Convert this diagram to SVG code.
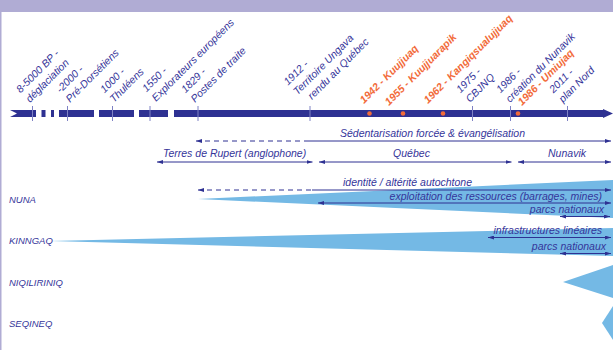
<svg xmlns="http://www.w3.org/2000/svg" width="613" height="350" viewBox="0 0 613 350">
<defs>
<marker id="ah" viewBox="0 0 6 4" refX="6" refY="2" markerWidth="6" markerHeight="4" markerUnits="userSpaceOnUse" orient="auto-start-reverse"><path d="M0,0 L6,2 L0,4 z" fill="#2e3192"/></marker>
<style>
.t{font-family:"Liberation Sans",Arial,sans-serif;font-style:italic;font-size:10.5px;fill:#35359a}
.o{font-family:"Liberation Sans",Arial,sans-serif;font-style:italic;font-weight:bold;font-size:10.5px;fill:#f26b3a}
.lab{font-family:"Liberation Sans",Arial,sans-serif;font-style:italic;font-size:9.5px;fill:#35359a}
.bar{fill:#2e3192}
.tick{stroke:#7f82c4;stroke-width:1}
.dot{fill:#f26b3a}
.ln{stroke:#2e3192;stroke-width:1;fill:none}
.dash{stroke-dasharray:5 4}
.w{fill:#74b9e5}
</style>
</defs>
<rect x="0" y="0" width="613" height="350" fill="#ffffff"/>
<rect x="0" y="0" width="613" height="12" fill="#b0acd4"/>
<rect x="0" y="12" width="1.5" height="338" fill="#b0acd4"/>

<g id="wedges">
<polygon class="w" points="198,199 613,180 613,218"/>
<polygon class="w" points="50,241 613,228 613,256"/>
<polygon class="w" points="563,282 613,265 613,298"/>
<polygon class="w" points="602,323 613,306 613,340"/>
</g>

<g id="timeline">
<polygon class="bar" points="10,110 36,110 36,117 10,117 17,113.5"/>
<rect class="bar" x="41.5" y="110" width="4" height="7"/>
<rect class="bar" x="51" y="110" width="3" height="7"/>
<rect class="bar" x="59" y="110" width="35" height="7"/>
<rect class="bar" x="99" y="110" width="35" height="7"/>
<rect class="bar" x="139" y="110" width="29" height="7"/>
<rect class="bar" x="174" y="110" width="430" height="7"/>
<polygon class="bar" points="603,109 613,113.5 603,118"/>
<g class="tick">
<line x1="32.5" y1="106" x2="32.5" y2="121"/>
<line x1="67.5" y1="106" x2="67.5" y2="121"/>
<line x1="112.5" y1="106" x2="112.5" y2="121"/>
<line x1="150" y1="106" x2="150" y2="121"/>
<line x1="198" y1="106" x2="198" y2="121"/>
<line x1="310" y1="106" x2="310" y2="121"/>
<line x1="472.5" y1="106" x2="472.5" y2="121"/>
<line x1="510.5" y1="106" x2="510.5" y2="121"/>
<line x1="567.5" y1="106" x2="567.5" y2="121"/>
</g>
<circle class="dot" cx="369.5" cy="113.5" r="2.3"/>
<circle class="dot" cx="403" cy="113.5" r="2.3"/>
<circle class="dot" cx="443" cy="113.5" r="2.3"/>
<circle class="dot" cx="518" cy="113.5" r="2.3"/>
</g>

<g id="ev-8000"><text class="t" transform="translate(30,103) rotate(-45)"><tspan x="0" y="-13.5">8-5000 BP -</tspan><tspan x="0" y="0">déglaciation</tspan></text></g>
<g id="ev-2000"><text class="t" transform="translate(70,103) rotate(-45)"><tspan x="0" y="-13.5">-2000 -</tspan><tspan x="0" y="0">Pré-Dorsétiens</tspan></text></g>
<g id="ev-1000"><text class="t" transform="translate(114,103) rotate(-45)"><tspan x="0" y="-13.5">1000 -</tspan><tspan x="0" y="0">Thuléens</tspan></text></g>
<g id="ev-1550"><text class="t" transform="translate(156,102) rotate(-45)"><tspan x="0" y="-13.5">1550 -</tspan><tspan x="0" y="0">Explorateurs européens</tspan></text></g>
<g id="ev-1829"><text class="t" transform="translate(195,103) rotate(-45)"><tspan x="0" y="-13.5">1829 -</tspan><tspan x="0" y="0">Postes de traite</tspan></text></g>
<g id="ev-1912"><text class="t" transform="translate(312,100) rotate(-45)"><tspan x="-7" y="-27">1912 -</tspan><tspan x="-7" y="-13.5">Territoire Ungava</tspan><tspan x="0" y="0">rendu au Québec</tspan></text></g>
<g id="ev-1942"><text class="o" transform="translate(364,104) rotate(-45)">1942 - Kuujjuaq</text></g>
<g id="ev-1955"><text class="o" transform="translate(389,106) rotate(-45)">1955 - Kuujjuarapik</text></g>
<g id="ev-1962"><text class="o" transform="translate(428,104) rotate(-45)">1962 - Kangiqsualujjuaq</text></g>
<g id="ev-1975"><text class="t" transform="translate(470,103) rotate(-45)"><tspan x="0" y="-13.5">1975 -</tspan><tspan x="0" y="0">CBJNQ</tspan></text></g>
<g id="ev-1986"><text class="t" transform="translate(510,103) rotate(-45)"><tspan x="0" y="-13.5">1986 -</tspan><tspan x="0" y="0">création du Nunavik</tspan></text></g>
<g id="ev-1986u"><text class="o" transform="translate(522,106) rotate(-45)">1986 - Umiujaq</text></g>
<g id="ev-2011"><text class="t" transform="translate(563,103) rotate(-45)"><tspan x="0" y="-13.5">2011 -</tspan><tspan x="0" y="0">plan Nord</tspan></text></g>

<g id="row-labels">
<text class="lab" x="9" y="202.5">NUNA</text>
<text class="lab" x="9" y="244">KINNGAQ</text>
<text class="lab" x="9" y="285.5">NIQILIRINIQ</text>
<text class="lab" x="9" y="326.5">SEQINEQ</text>
</g>

<g id="period-labels">
<text class="t" x="340" y="137">Sédentarisation forcée &amp; évangélisation</text>
<text class="t" x="163" y="157">Terres de Rupert (anglophone)</text>
<text class="t" x="411.5" y="157" text-anchor="middle">Québec</text>
<text class="t" x="567" y="157" text-anchor="middle">Nunavik</text>
<text class="t" x="343" y="186">identité / altérité autochtone</text>
<text class="t" x="602" y="200" text-anchor="end">exploitation des ressources (barrages, mines)</text>
<text class="t" x="604" y="213" text-anchor="end">parcs nationaux</text>
<text class="t" x="602" y="234" text-anchor="end">infrastructures linéaires</text>
<text class="t" x="606" y="250" text-anchor="end">parcs nationaux</text>
</g>

<g id="connectors">
<line class="ln dash" x1="196" y1="141" x2="308" y2="141" marker-start="url(#ah)"/>
<line class="ln" x1="308" y1="141" x2="611" y2="141" marker-end="url(#ah)"/>
<line class="ln" x1="157" y1="162" x2="312.5" y2="162" marker-start="url(#ah)" marker-end="url(#ah)"/>
<line class="ln" x1="319" y1="162" x2="511.5" y2="162" marker-start="url(#ah)" marker-end="url(#ah)"/>
<line class="ln" x1="518" y1="162" x2="611" y2="162" marker-start="url(#ah)" marker-end="url(#ah)"/>
<line class="ln dash" x1="198" y1="190" x2="312" y2="190" marker-start="url(#ah)"/>
<line class="ln" x1="312" y1="190" x2="611" y2="190" marker-end="url(#ah)"/>
<line class="ln" x1="318" y1="203" x2="611" y2="203" marker-start="url(#ah)" marker-end="url(#ah)"/>
<line class="ln" x1="560" y1="216.5" x2="610" y2="216.5" marker-start="url(#ah)" marker-end="url(#ah)"/>
<line class="ln" x1="488" y1="237.5" x2="611" y2="237.5" marker-start="url(#ah)" marker-end="url(#ah)"/>
<line class="ln" x1="560" y1="253.5" x2="611" y2="253.5" marker-start="url(#ah)" marker-end="url(#ah)"/>
</g>
</svg>
